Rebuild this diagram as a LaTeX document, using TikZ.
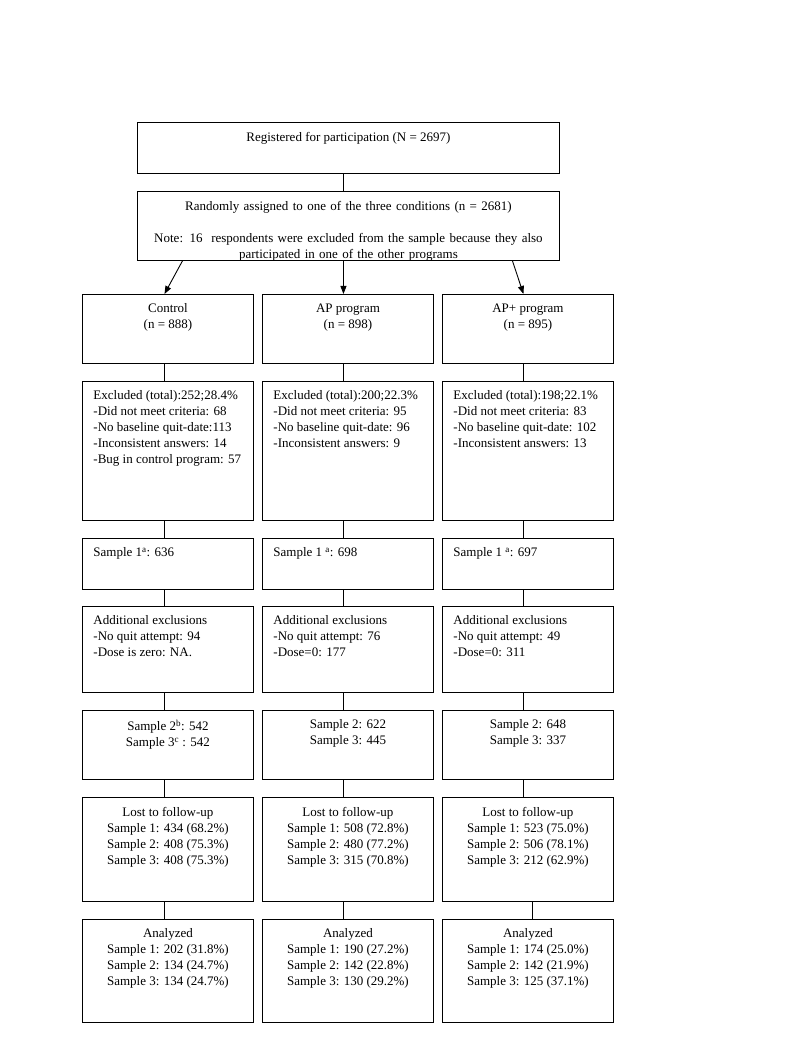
\documentclass[tikz,border=0pt]{standalone}
\usepackage{fontspec}
\setmainfont{Liberation Serif}
\usetikzlibrary{arrows.meta}

\begin{document}
\begin{tikzpicture}[x=1pt,y=-1pt,>={Triangle[length=8pt,width=6pt]},line width=0.9pt,
  box/.style={draw,inner sep=0,anchor=north west,minimum width=171pt},
  txt/.style={inner sep=0,anchor=north,align=center,font=\fontsize{13}{16}\selectfont},
  txtl/.style={inner sep=0,anchor=north west,align=left,font=\fontsize{13}{16}\selectfont}]

  \useasboundingbox (0,0) rectangle (800,1040);

  % top boxes
  \node[box,minimum width=422pt,minimum height=51pt] (reg) at (137,122) {};
  \node[box,minimum width=422pt,minimum height=69pt] (rand) at (137,191) {};
  \node[txt] (regt) at ([yshift=-9.5pt]reg.north) {Registered for participation (N = 2697)};
  \node[txt,text width=410pt] (randt) at ([yshift=-9.5pt]rand.north)
    {Randomly assigned to one of the three conditions (n = 2681)\\[16pt]
     Note: 16\ \ respondents were excluded from the sample because they also\\
     participated in one of the other programs};

  % control
  \node[box,minimum height=69pt] (c1) at (82,294) {};
  \node[box,minimum height=139pt] (c2) at (82,381) {};
  \node[box,minimum height=51pt] (c3) at (82,538) {};
  \node[box,minimum height=86pt] (c4) at (82,606) {};
  \node[box,minimum height=69pt] (c5) at (82,710) {};
  \node[box,minimum height=104pt] (c6) at (82,797) {};
  \node[box,minimum height=103pt] (c7) at (82,919) {};

  % AP program
  \node[box,minimum height=69pt] (p1) at (262,294) {};
  \node[box,minimum height=139pt] (p2) at (262,381) {};
  \node[box,minimum height=51pt] (p3) at (262,538) {};
  \node[box,minimum height=86pt] (p4) at (262,606) {};
  \node[box,minimum height=69pt] (p5) at (262,710) {};
  \node[box,minimum height=104pt] (p6) at (262,797) {};
  \node[box,minimum height=103pt] (p7) at (262,919) {};

  % AP+ program
  \node[box,minimum height=69pt] (q1) at (442,294) {};
  \node[box,minimum height=139pt] (q2) at (442,381) {};
  \node[box,minimum height=51pt] (q3) at (442,538) {};
  \node[box,minimum height=86pt] (q4) at (442,606) {};
  \node[box,minimum height=69pt] (q5) at (442,710) {};
  \node[box,minimum height=104pt] (q6) at (442,797) {};
  \node[box,minimum height=103pt] (q7) at (442,919) {};

  % texts, control
  \node[txt] (c1t) at ([yshift=-9.5pt]c1.north) {Control\\(n = 888)};
  \node[txtl] (c2t) at ([xshift=11pt,yshift=-9.5pt]c2.north west)
    {Excluded (total):252;28.4\%\\-Did not meet criteria: 68\\-No baseline quit-date:113\\-Inconsistent answers: 14\\-Bug in control program: 57};
  \node[txtl] (c3t) at ([xshift=11pt,yshift=-9.5pt]c3.north west) {Sample 1\textsuperscript{a}: 636};
  \node[txtl] (c4t) at ([xshift=11pt,yshift=-9.5pt]c4.north west)
    {Additional exclusions\\-No quit attempt: 94\\-Dose is zero: NA.};
  \node[txt] (c5t) at ([yshift=-9.5pt]c5.north) {Sample 2\textsuperscript{b}: 542\\Sample 3\textsuperscript{c} : 542};
  \node[txt] (c6t) at ([yshift=-9.5pt]c6.north)
    {Lost to follow-up\\Sample 1: 434 (68.2\%)\\Sample 2: 408 (75.3\%)\\Sample 3: 408 (75.3\%)};
  \node[txt] (c7t) at ([yshift=-9.5pt]c7.north)
    {Analyzed\\Sample 1: 202 (31.8\%)\\Sample 2: 134 (24.7\%)\\Sample 3: 134 (24.7\%)};

  % texts, AP program
  \node[txt] (p1t) at ([yshift=-9.5pt]p1.north) {AP program\\(n = 898)};
  \node[txtl] (p2t) at ([xshift=11pt,yshift=-9.5pt]p2.north west)
    {Excluded (total):200;22.3\%\\-Did not meet criteria: 95\\-No baseline quit-date: 96\\-Inconsistent answers: 9};
  \node[txtl] (p3t) at ([xshift=11pt,yshift=-9.5pt]p3.north west) {Sample 1 \textsuperscript{a}: 698};
  \node[txtl] (p4t) at ([xshift=11pt,yshift=-9.5pt]p4.north west)
    {Additional exclusions\\-No quit attempt: 76\\-Dose=0: 177};
  \node[txt] (p5t) at ([yshift=-9.5pt]p5.north) {Sample 2: 622\\Sample 3: 445};
  \node[txt] (p6t) at ([yshift=-9.5pt]p6.north)
    {Lost to follow-up\\Sample 1: 508 (72.8\%)\\Sample 2: 480 (77.2\%)\\Sample 3: 315 (70.8\%)};
  \node[txt] (p7t) at ([yshift=-9.5pt]p7.north)
    {Analyzed\\Sample 1: 190 (27.2\%)\\Sample 2: 142 (22.8\%)\\Sample 3: 130 (29.2\%)};

  % texts, AP+ program
  \node[txt] (q1t) at ([yshift=-9.5pt]q1.north) {AP+ program\\(n = 895)};
  \node[txtl] (q2t) at ([xshift=11pt,yshift=-9.5pt]q2.north west)
    {Excluded (total):198;22.1\%\\-Did not meet criteria: 83\\-No baseline quit-date: 102\\-Inconsistent answers: 13};
  \node[txtl] (q3t) at ([xshift=11pt,yshift=-9.5pt]q3.north west) {Sample 1 \textsuperscript{a}: 697};
  \node[txtl] (q4t) at ([xshift=11pt,yshift=-9.5pt]q4.north west)
    {Additional exclusions\\-No quit attempt: 49\\-Dose=0: 311};
  \node[txt] (q5t) at ([yshift=-9.5pt]q5.north) {Sample 2: 648\\Sample 3: 337};
  \node[txt] (q6t) at ([yshift=-9.5pt]q6.north)
    {Lost to follow-up\\Sample 1: 523 (75.0\%)\\Sample 2: 506 (78.1\%)\\Sample 3: 212 (62.9\%)};
  \node[txt] (q7t) at ([yshift=-9.5pt]q7.north)
    {Analyzed\\Sample 1: 174 (25.0\%)\\Sample 2: 142 (21.9\%)\\Sample 3: 125 (37.1\%)};

  % connectors
  \draw ([xshift=-5pt]reg.south) -- ([xshift=-5pt]rand.north);
  \draw[->] ([xshift=-166pt]rand.south) -- ([xshift=-3.5pt]c1.north);
  \draw[->] ([xshift=-5pt]rand.south) -- ([xshift=-4.5pt]p1.north);
  \draw[->] ([xshift=164pt]rand.south) -- ([xshift=-4.5pt]q1.north);

  \draw ([xshift=-4pt]c1.south) -- ([xshift=-4pt]c2.north);
  \draw ([xshift=-4pt]c2.south) -- ([xshift=-4pt]c3.north);
  \draw ([xshift=-4pt]c3.south) -- ([xshift=-4pt]c4.north);
  \draw ([xshift=-4pt]c4.south) -- ([xshift=-4pt]c5.north);
  \draw ([xshift=-4pt]c5.south) -- ([xshift=-4pt]c6.north);
  \draw ([xshift=-4pt]c6.south) -- ([xshift=-4pt]c7.north);

  \draw ([xshift=-5pt]p1.south) -- ([xshift=-5pt]p2.north);
  \draw ([xshift=-5pt]p2.south) -- ([xshift=-5pt]p3.north);
  \draw ([xshift=-5pt]p3.south) -- ([xshift=-5pt]p4.north);
  \draw ([xshift=-5pt]p4.south) -- ([xshift=-5pt]p5.north);
  \draw ([xshift=-5pt]p5.south) -- ([xshift=-5pt]p6.north);
  \draw ([xshift=-5pt]p6.south) -- ([xshift=-5pt]p7.north);

  \draw ([xshift=-5pt]q1.south) -- ([xshift=-5pt]q2.north);
  \draw ([xshift=-5pt]q2.south) -- ([xshift=-5pt]q3.north);
  \draw ([xshift=-5pt]q3.south) -- ([xshift=-5pt]q4.north);
  \draw ([xshift=-5pt]q4.south) -- ([xshift=-5pt]q5.north);
  \draw ([xshift=-5pt]q5.south) -- ([xshift=-5pt]q6.north);
  \draw ([xshift=4.5pt]q6.south) -- ([xshift=4.5pt]q7.north);

\end{tikzpicture}
\end{document}
